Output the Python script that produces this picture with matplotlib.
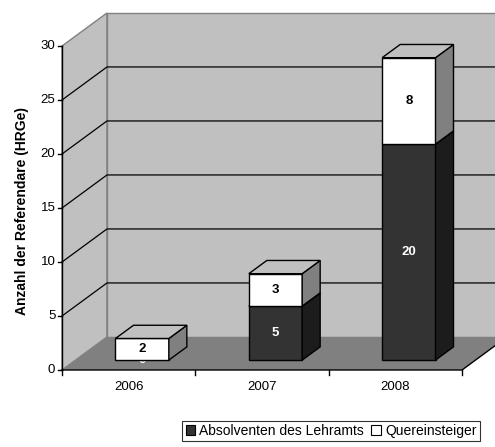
import matplotlib.pyplot as plt
from matplotlib.patches import Polygon, Patch

plt.rcParams['font.family'] = ['Liberation Sans', 'DejaVu Sans']

# Daten
jahre = ['2006', '2007', '2008']
absolventen = [0, 5, 20]
quereinsteiger = [2, 3, 8]
serien = ['Absolventen des Lehramts', 'Quereinsteiger']
y_ticks = [0, 5, 10, 15, 20, 25, 30]

# Farben (Excel-Graustufen)
farbe_front = ['#333333', '#ffffff']
farbe_seite = ['#1c1c1c', '#808080']
farbe_oben = ['#4a4a4a', '#c0c0c0']
text_farbe = ['white', 'black']

# Pseudo-3D: Tiefenversatz in Datenkoordinaten
DX, DY = 0.3375, 3.06
BAR_W = 0.4
D0, D1 = 0.3, 0.7  # Vorder-/Rueckseite der Saeulen (Anteil der Tiefe)

fig = plt.figure(figsize=(4.95, 4.47), dpi=100)
ax = fig.add_axes([0, 0, 1, 1])
ax.set_xlim(-0.965, 2.7475)
ax.set_ylim(-7.13, 34.26)
ax.axis('off')

n = len(jahre)
x_l, x_r = -0.5, n - 0.5
y_top = y_ticks[-1]

# Waende und Boden
ax.add_patch(Polygon([(x_l, 0), (x_l, y_top), (x_l + DX, y_top + DY), (x_l + DX, DY)],
                     closed=True, fc='#c0c0c0', ec='#808080', lw=1, zorder=1))
ax.add_patch(Polygon([(x_l + DX, DY), (x_l + DX, y_top + DY), (x_r + DX, y_top + DY), (x_r + DX, DY)],
                     closed=True, fc='#c0c0c0', ec='#808080', lw=1, zorder=1))
ax.add_patch(Polygon([(x_l, 0), (x_r, 0), (x_r + DX, DY), (x_l + DX, DY)],
                     closed=True, fc='#808080', ec='none', zorder=1))
ax.plot([x_l, x_r, x_r + DX], [0, 0, DY], color='black', lw=1, zorder=2)

# Gitternetz
for t in y_ticks[1:-1]:
    ax.plot([x_l, x_l + DX, x_r + DX], [t, t + DY, t + DY], color='black', lw=0.9, zorder=2)

# y-Achse
ax.plot([x_l, x_l], [0, y_top], color='black', lw=1, zorder=3)
for t in y_ticks:
    ax.plot([x_l - 0.03, x_l], [t, t], color='black', lw=1, zorder=3)
    ax.text(x_l - 0.05, t, str(t), ha='right', va='center', fontsize=9.5)

# x-Achse
for i in range(n + 1):
    ax.plot([i - 0.5, i - 0.5], [0, -0.45], color='black', lw=1, zorder=3)
for i, j in enumerate(jahre):
    ax.text(i, -1.6, j, ha='center', va='center', fontsize=9.5)

# Saeulen
for i in range(n):
    x0 = i - BAR_W / 2 + D0 * DX
    x1 = x0 + BAR_W
    bdx, bdy = (D1 - D0) * DX, (D1 - D0) * DY
    basis = D0 * DY
    unten = 0
    for s, werte in enumerate([absolventen, quereinsteiger]):
        h = werte[i]
        y0 = basis + unten
        y1 = y0 + h
        if h == 0:
            # Excel zeigt die 0 halb verdeckt unter der Saeule
            ax.text((x0 + x1) / 2, y0, str(h), ha='center', va='center',
                    fontsize=9.5, fontweight='bold', color=text_farbe[s], zorder=4)
            continue
        ax.add_patch(Polygon([(x0, y0), (x1, y0), (x1, y1), (x0, y1)], closed=True,
                             fc=farbe_front[s], ec='black', lw=1, zorder=5))
        ax.add_patch(Polygon([(x1, y0), (x1 + bdx, y0 + bdy), (x1 + bdx, y1 + bdy), (x1, y1)],
                             closed=True, fc=farbe_seite[s], ec='black', lw=1, zorder=5))
        ax.add_patch(Polygon([(x0, y1), (x1, y1), (x1 + bdx, y1 + bdy), (x0 + bdx, y1 + bdy)],
                             closed=True, fc=farbe_oben[s], ec='black', lw=1, zorder=5))
        ax.text((x0 + x1) / 2, (y0 + y1) / 2, str(h), ha='center', va='center',
                fontsize=9.5, fontweight='bold', color=text_farbe[s], zorder=6)
        unten += h

# Achsentitel
fig.text(22 / 495, 1 - 211 / 447, 'Anzahl der Referendare (HRGe)', rotation=90,
         ha='center', va='center', fontsize=10, fontweight='bold')

# Legende
handles = [Patch(fc=farbe_front[k], ec='black', lw=0.8) for k in range(2)]
leg = fig.legend(handles, serien, loc='center', bbox_to_anchor=(331 / 495, 1 - 431 / 447),
                 ncol=2, fontsize=10, frameon=True, fancybox=False, edgecolor='black',
                 handlelength=0.7, handleheight=0.7, handletextpad=0.3, columnspacing=0.5,
                 borderpad=0.25, borderaxespad=0)
leg.get_frame().set_linewidth(0.8)

fig.savefig('out.png', dpi=100)
